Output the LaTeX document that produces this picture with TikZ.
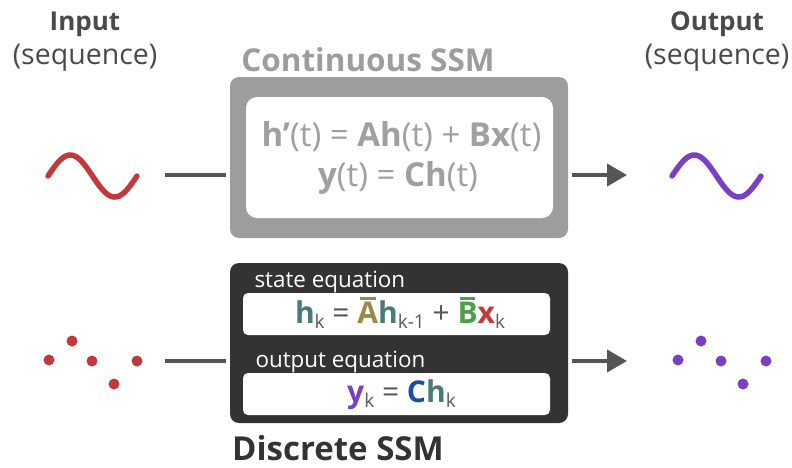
\documentclass[tikz,border=0pt]{standalone}
\usepackage{fontspec}
\setmainfont{Open Sans}
\usetikzlibrary{arrows.meta}
\definecolor{redc}{HTML}{C0393B}
\definecolor{purc}{HTML}{7A3FC2}
\definecolor{lgray}{HTML}{9D9D9D}
\definecolor{tgray}{HTML}{A0A0A0}
\definecolor{dark}{HTML}{333333}
\definecolor{lab}{HTML}{4A4A4A}
\definecolor{linec}{HTML}{555555}
\definecolor{hc}{HTML}{4A7B7A}
\definecolor{ac}{HTML}{9A8A47}
\definecolor{bc}{HTML}{4CA04C}
\definecolor{cc}{HTML}{1A4FA0}
\definecolor{subc}{HTML}{5A5A5A}
\newcommand\sbk[1]{\raisebox{-5pt}{\fontsize{19}{19}\selectfont\color{subc}#1}}
\newcommand\ovl[2]{\sbox0{\color{#1}\textbf{#2}}{\color{#1}\rlap{\hbox to \wd0{\hfil\rule[\dimexpr\ht0+2pt\relax]{0.75\wd0}{3pt}\hfil}}\usebox0}}
\begin{document}
\begin{tikzpicture}[x=1pt,y=-1pt,
  box/.style={draw=none, inner sep=0pt, rectangle},
  conn/.style={draw=linec, line width=4pt},
  dot/.style={circle, inner sep=0pt, minimum size=11pt},
  wave/.style={line width=5.5pt, line cap=round},
  head/.style={font=\fontsize{26}{30}\selectfont\bfseries, text=lab, anchor=base},
  sub/.style={font=\fontsize{28.5}{32}\selectfont, text=lab, anchor=base},
  eqcont/.style={font=\fontsize{33}{38}\selectfont, text=tgray, anchor=base},
  eqdisc/.style={font=\fontsize{30}{34}\selectfont, text=linec, anchor=base},
  small/.style={font=\fontsize{22.4}{26}\selectfont, text=white, anchor=base west},
  arr/.style={conn, -{Triangle[length=20pt,width=22pt]}}
]
\useasboundingbox (0,0) rectangle (792,467);

% labels
\node[head] (inlab) at (85,30) {Input};
\node[sub] (inseq) at (85,64) {(sequence)};
\node[head] (outlab) at (717,30) {Output};
\node[sub] (outseq) at (717,64) {(sequence)};

% continuous SSM
\node[font=\fontsize{31.5}{36}\selectfont\bfseries, text=lgray, anchor=base] (ctitle) at (368,71) {Continuous SSM};
\node[box, fill=lgray, minimum width=338pt, minimum height=161pt, rounded corners=9pt] (cont) at (399,157.5) {};
\node[box, fill=white, minimum width=307pt, minimum height=121pt, rounded corners=11pt] (cin) at (399.5,157.5) {};
\node[eqcont] (ceq1) at (401.5,146) {\textbf{h'}(t) = \textbf{Ah}(t) + \textbf{Bx}(t)};
\node[eqcont] (ceq2) at (398,186) {\textbf{y}(t) = \textbf{Ch}(t)};

% discrete SSM
\node[box, fill=dark, minimum width=338pt, minimum height=160pt, rounded corners=9pt] (disc) at (399,343) {};
\node[small] (st) at (251,287) {state equation};
\node[box, fill=white, minimum width=307pt, minimum height=42pt, rounded corners=5pt] (w1) at (396.5,314) {};
\node[small] (ot) at (252,367) {output equation};
\node[box, fill=white, minimum width=307pt, minimum height=42pt, rounded corners=5pt] (w2) at (396.5,394) {};
\node[eqdisc] (deq1) at (400,323) {{\color{hc}\textbf{h}}\sbk{k} = \ovl{ac}{A}{\color{hc}\textbf{h}}\sbk{k-1} + \ovl{bc}{B}{\color{redc}\textbf{x}}\sbk{k}};
\node[eqdisc] (deq2) at (401.5,402) {{\color{purc}\textbf{y}}\sbk{k} = {\color{cc}\textbf{C}}{\color{hc}\textbf{h}}\sbk{k}};
\node[font=\fontsize{33}{38}\selectfont\bfseries, text=dark, anchor=base, inner sep=0pt] (dtitle) at (338,460) {Discrete SSM};

% waves
\draw[wave, redc] plot[domain=0:1, samples=60] ({48+89*\x},{176-21*sin(360*\x)});
\draw[wave, purc] plot[domain=0:1, samples=60] ({672+89*\x},{176-21*sin(360*\x)});

% dots
\node[dot, fill=redc] (r1) at (49,360) {};
\node[dot, fill=redc] (r2) at (72,341) {};
\node[dot, fill=redc] (r3) at (92,361) {};
\node[dot, fill=redc] (r4) at (114,384) {};
\node[dot, fill=redc] (r5) at (137,361) {};
\node[dot, fill=purc] (p1) at (678,360) {};
\node[dot, fill=purc] (p2) at (701,341) {};
\node[dot, fill=purc] (p3) at (721,361) {};
\node[dot, fill=purc] (p4) at (743,384) {};
\node[dot, fill=purc] (p5) at (766,361) {};

% connectors
\coordinate (a1) at (165,175);
\coordinate (b1) at (627,175);
\coordinate (a2) at (165,361);
\coordinate (b2) at (627,361);
\draw[conn, shorten >=4pt] (a1) -- (a1 -| cont.west);
\draw[arr, shorten <=4pt] (b1 -| cont.east) -- (b1);
\draw[conn, shorten >=4pt] (a2) -- (a2 -| disc.west);
\draw[arr, shorten <=4pt] (b2 -| disc.east) -- (b2);
\end{tikzpicture}
\end{document}
